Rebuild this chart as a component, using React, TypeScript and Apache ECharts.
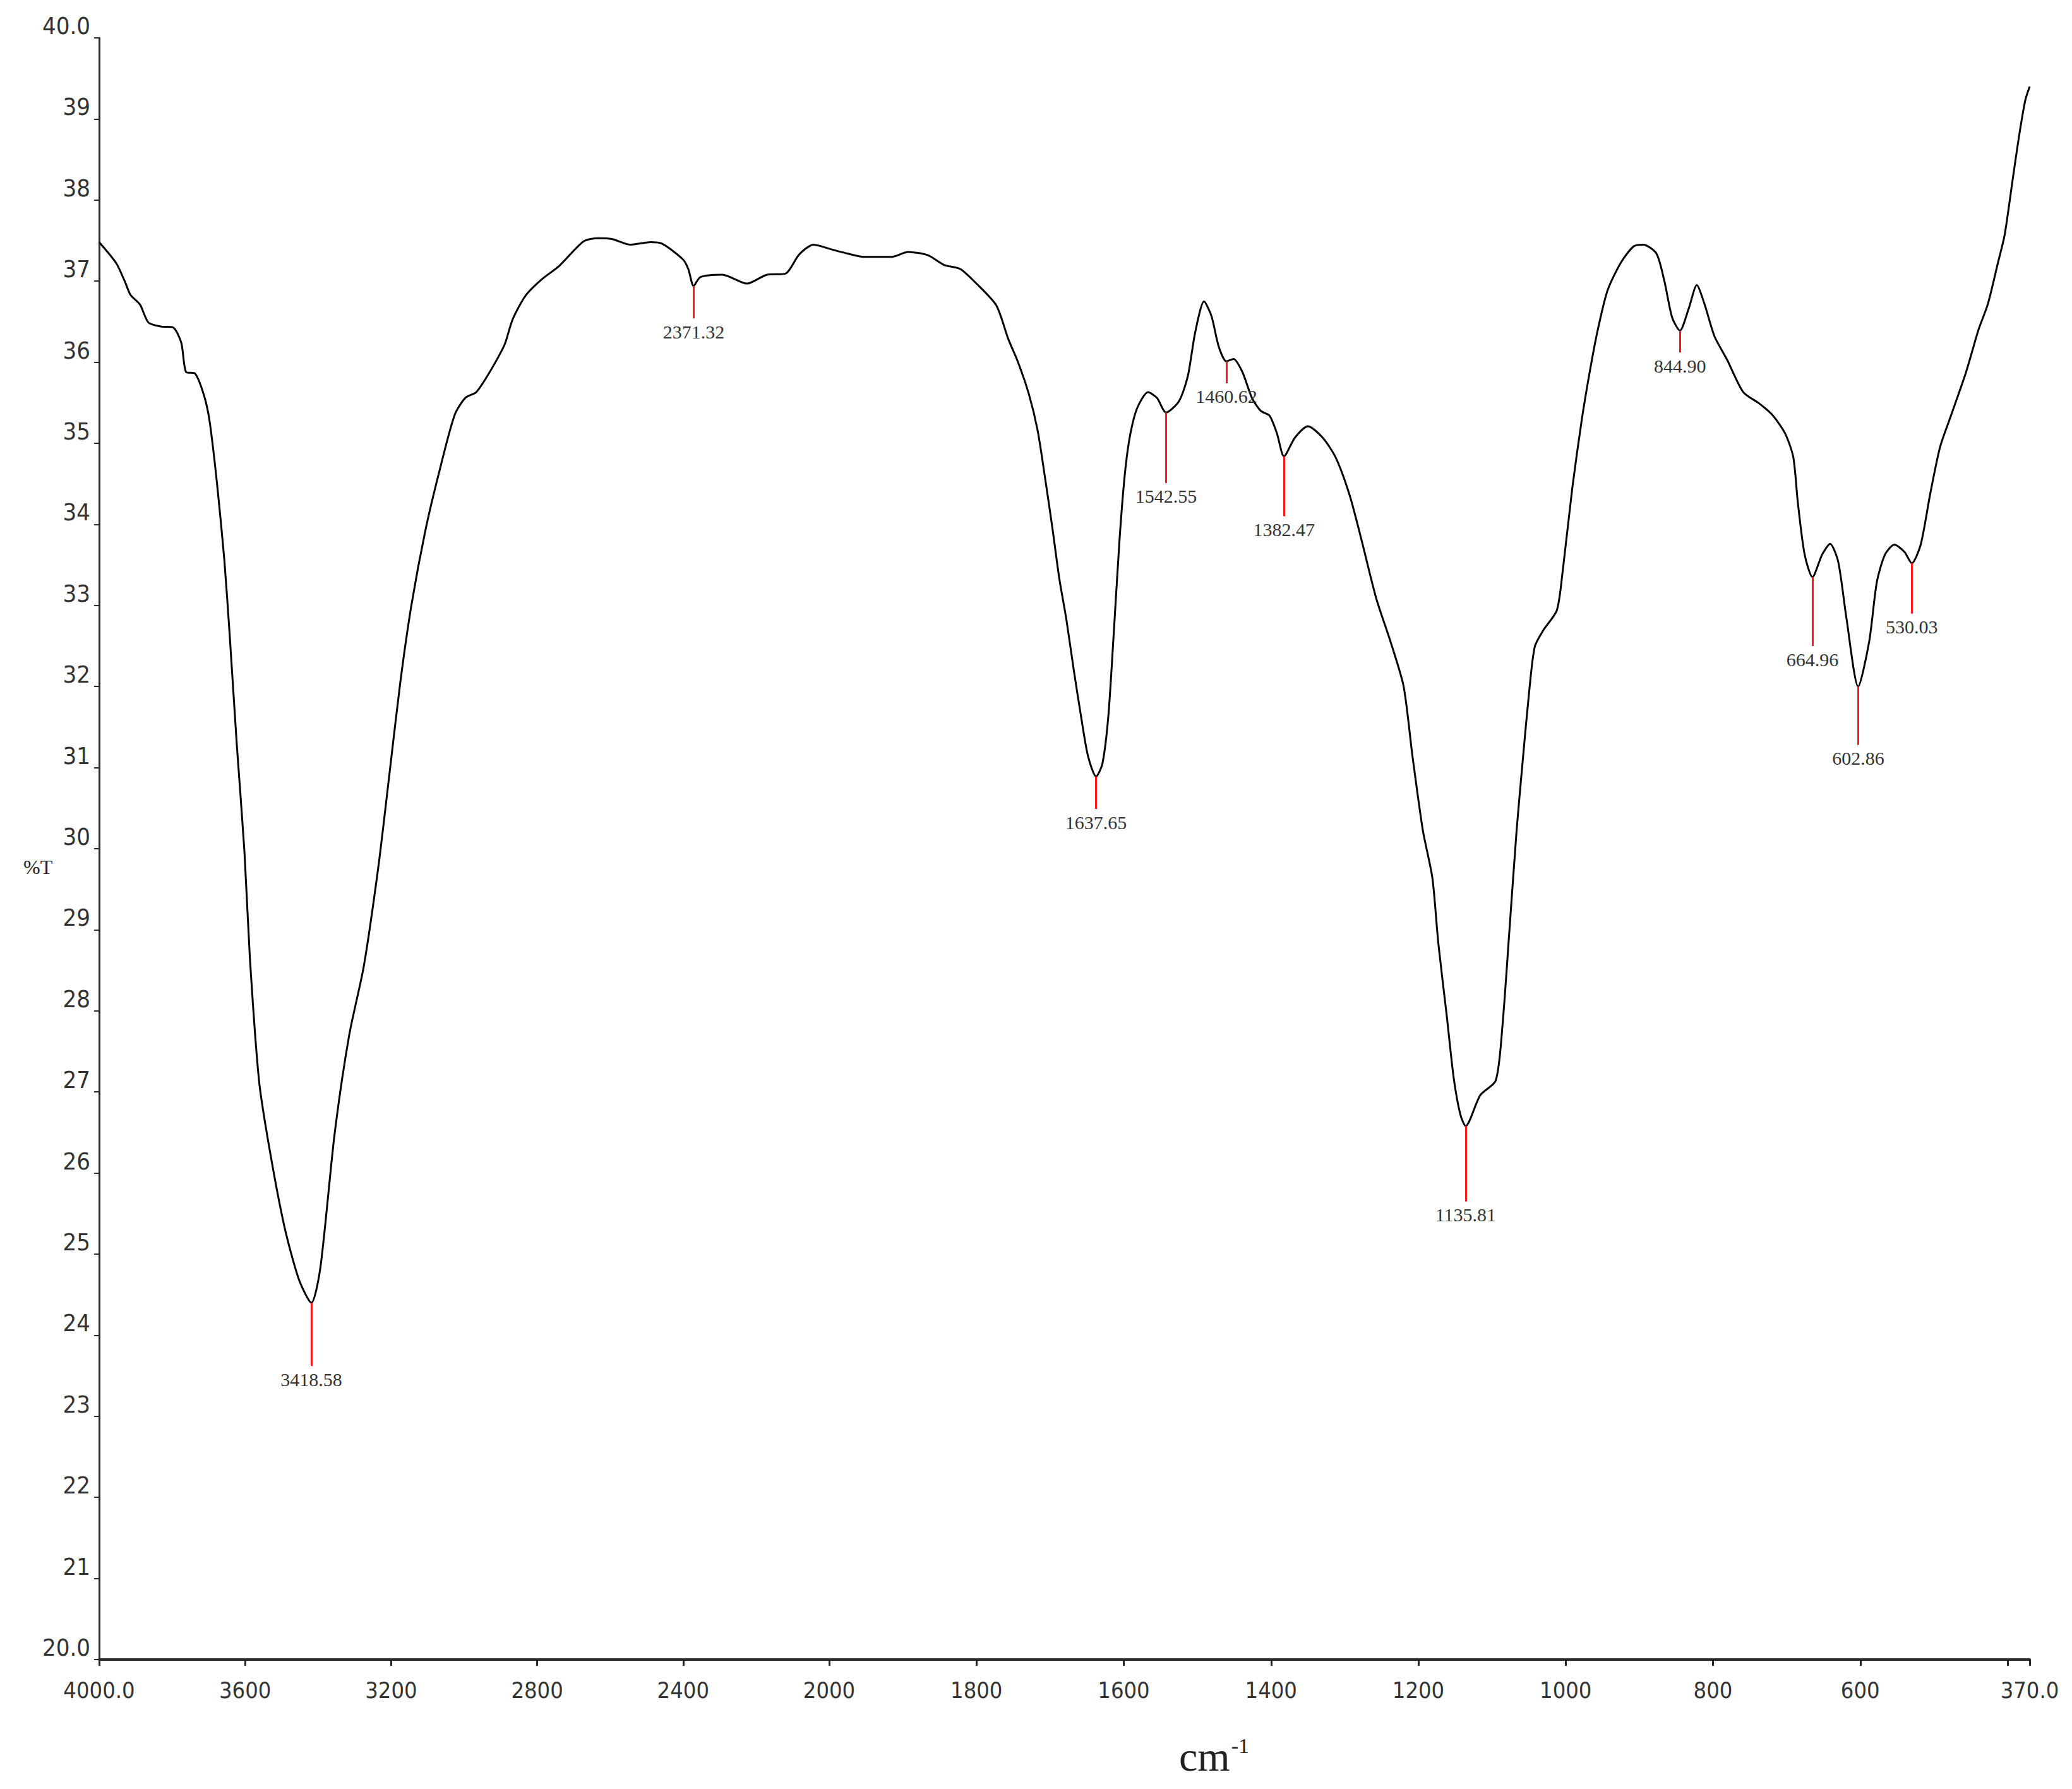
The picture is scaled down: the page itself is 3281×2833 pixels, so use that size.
import { useEffect, useRef } from 'react';
import * as echarts from 'echarts';

// 4000 - 2000 cm-1 (compressed half of the split axis)
const highWn = [
  4000, 3953, 3930, 3914, 3888, 3865, 3830, 3798, 3775, 3762, 3737, 3712, 3697, 3677,
  3657, 3642, 3623, 3602, 3587, 3562, 3533, 3493, 3453, 3418.58, 3394, 3355, 3315, 3275,
  3235, 3205, 3175, 3145, 3106, 3066, 3026, 2997, 2967, 2938, 2907, 2888, 2867, 2832,
  2788, 2739, 2673, 2633, 2595, 2545, 2490, 2457, 2401, 2386, 2371.32, 2353, 2293, 2225,
  2170, 2121, 2082, 2043, 2000,
];
const highT = [
  37.48, 37.22, 37.0, 36.83, 36.71, 36.49, 36.44, 36.43, 36.24, 35.88, 35.86, 35.58, 35.26, 34.5,
  33.56, 32.61, 31.29, 29.97, 28.65, 27.14, 26.29, 25.35, 24.69, 24.4, 24.83, 26.48, 27.7, 28.55,
  29.78, 30.91, 32.05, 32.99, 33.93, 34.69, 35.35, 35.56, 35.63, 35.82, 36.06, 36.23, 36.53, 36.82,
  37.02, 37.19, 37.49, 37.53, 37.52, 37.45, 37.48, 37.46, 37.27, 37.15, 36.94, 37.05, 37.08, 36.97,
  37.08, 37.09, 37.33, 37.45, 37.4,
];

// 2000 - 370 cm-1 (expanded half)
const lowWn = [
  2000, 1975, 1953, 1915, 1893, 1866, 1844, 1822, 1800, 1773, 1757, 1744, 1729, 1717,
  1707, 1697, 1687.5, 1678, 1668, 1658, 1648.5, 1637.65, 1629, 1621, 1613.6, 1606, 1599, 1592,
  1582, 1567, 1555, 1542.55, 1525, 1513, 1503, 1491, 1481, 1471, 1460.62, 1451, 1439, 1426,
  1414, 1402, 1392, 1382.47, 1367.6, 1350, 1330, 1312, 1293, 1277, 1257, 1237, 1220, 1208,
  1194, 1181, 1173, 1161.5, 1152, 1143, 1135.81, 1116, 1095, 1086, 1076.5, 1066.6, 1058.5, 1050,
  1042, 1030, 1012, 1004, 991, 978, 966, 955.7, 943, 925, 907.6, 894.7, 876.8, 866,
  855.4, 844.9, 833, 822, 811.6, 798, 780.8, 758.8, 737, 719.4, 702, 691, 684.7, 675.6,
  664.96, 651.7, 641, 630, 618.6, 602.86, 588, 577.5, 566.4, 553.6, 540, 530.03, 518, 505,
  491.8, 478.9, 457, 439.5, 426.7, 413, 404, 393, 384.6, 376, 370,
];
const lowT = [
  37.4, 37.34, 37.3, 37.3, 37.36, 37.32, 37.2, 37.15, 36.97, 36.7, 36.29, 36.01, 35.61, 35.16,
  34.58, 33.96, 33.33, 32.83, 32.21, 31.63, 31.14, 30.89, 31.05, 31.63, 32.66, 33.78, 34.58, 35.07,
  35.43, 35.63, 35.56, 35.38, 35.52, 35.83, 36.37, 36.75, 36.57, 36.19, 36.01, 36.04, 35.88, 35.56,
  35.4, 35.34, 35.12, 34.84, 35.07, 35.21, 35.07, 34.82, 34.35, 33.8, 33.08, 32.53, 32.0, 31.14,
  30.23, 29.64, 28.84, 27.94, 27.17, 26.72, 26.58, 26.96, 27.14, 27.8, 28.98, 30.23, 31.07, 31.9,
  32.49, 32.7, 32.94, 33.43, 34.45, 35.3, 35.95, 36.43, 36.89, 37.23, 37.43, 37.45, 37.34, 37.0,
  36.55, 36.39, 36.66, 36.95, 36.72, 36.32, 36.03, 35.63, 35.49, 35.35, 35.12, 34.83, 34.26, 33.63,
  33.35, 33.63, 33.76, 33.54, 32.83, 32.0, 32.55, 33.29, 33.63, 33.75, 33.66, 33.52, 33.75, 34.38,
  34.95, 35.29, 35.86, 36.4, 36.72, 37.23, 37.57, 38.26, 38.78, 39.23, 39.4,
];

// marked peaks: position, %T at the minimum, and how far the red stem drops (in %T)
const peakWn = [3418.58, 2371.32, 1637.65, 1542.55, 1460.62, 1382.47, 1135.81, 844.9, 664.96, 602.86, 530.03];
const peakT = [24.4, 36.94, 30.89, 35.38, 36.01, 34.84, 26.58, 36.39, 33.35, 32.0, 33.52];
const peakDrop = [0.78, 0.4, 0.4, 0.87, 0.27, 0.74, 0.93, 0.27, 0.85, 0.72, 0.62];

const highTicks = [4000, 3600, 3200, 2800, 2400, 2000];
const lowTicks = [1800, 1600, 1400, 1200, 1000, 800, 600, 400, 370];
const lowLabels = [1800, 1600, 1400, 1200, 1000, 800, 600, 370];

const AXIS_COLOR = '#2a2a2a';
const TEXT_COLOR = '#333333';
const NARROW = "'Liberation Sans Narrow', 'DejaVu Sans Condensed', 'Liberation Sans', sans-serif";
const SERIF = "'Liberation Serif', 'DejaVu Serif', serif";

function peakLines(hi: number, lo: number) {
  return peakWn
    .map((wn, i) => ({ wn, i }))
    .filter((p) => p.wn <= hi && p.wn >= lo)
    .map(({ wn, i }) => [
      { name: wn.toFixed(2), coord: [wn, peakT[i]] },
      { coord: [wn, peakT[i] - peakDrop[i]] },
    ]);
}

function xAxisFor(gridIndex: number, min: number, max: number, ticks: number[], labels: number[]) {
  return {
    type: 'value',
    gridIndex,
    min,
    max,
    inverse: true,
    splitLine: { show: false },
    axisLine: { show: true, onZero: false, lineStyle: { color: AXIS_COLOR, width: 4 } },
    axisTick: { show: true, length: 10, customValues: ticks, lineStyle: { color: AXIS_COLOR, width: 3 } },
    axisLabel: {
      customValues: labels,
      margin: 30,
      color: TEXT_COLOR,
      fontFamily: NARROW,
      fontSize: 36,
      formatter: (v: number) => (v === 4000 || v === 370 ? v.toFixed(1) : String(v)),
    },
  };
}

function makeSeries(xAxisIndex: number, wn: number[], t: number[], hi: number, lo: number) {
  return {
    type: 'line',
    xAxisIndex,
    yAxisIndex: xAxisIndex,
    data: wn.map((w, i) => [w, t[i]]),
    showSymbol: false,
    smooth: 0.25,
    lineStyle: { color: '#000000', width: 3 },
    silent: true,
    markLine: {
      silent: true,
      symbol: ['none', 'none'],
      lineStyle: { color: '#ff1a1a', width: 3, type: 'solid' },
      emphasis: { disabled: true },
      label: {
        show: true,
        position: 'end',
        distance: 6,
        color: TEXT_COLOR,
        fontFamily: SERIF,
        fontSize: 30,
        formatter: (p: { name: string }) => p.name,
      },
      data: peakLines(hi, lo),
    },
  };
}

export default function App() {
  const chartRef = useRef<HTMLDivElement>(null);

  useEffect(() => {
    if (!chartRef.current) return;
    document.body.style.margin = '0';
    const chart = echarts.init(chartRef.current, null, { renderer: 'svg' });

    const yBase = {
      type: 'value',
      min: 20,
      max: 40,
      interval: 1,
      splitLine: { show: false },
    };

    chart.setOption({
      animation: false,
      backgroundColor: '#ffffff',
      title: [
        {
          text: '%T',
          left: 32,
          top: 1352,
          textStyle: { fontFamily: SERIF, fontSize: 32, fontWeight: 'normal', color: '#222' },
        },
        {
          text: '{a|cm}{b|-1}',
          left: 1862,
          top: 2742,
          textStyle: {
            fontWeight: 'normal',
            rich: {
              a: { fontFamily: SERIF, fontSize: 66, fontWeight: 'normal', color: '#222' },
              b: {
                fontFamily: SERIF,
                fontSize: 34,
                fontWeight: 'normal',
                color: '#222',
                padding: [0, 0, 34, 2],
              },
            },
          },
        },
      ],
      grid: [
        { left: 157, top: 60, width: 1156, height: 2568, outerBoundsMode: 'none' },
        { left: 1313, top: 60, width: 1901, height: 2568, outerBoundsMode: 'none' },
      ],
      xAxis: [
        xAxisFor(0, 2000, 4000, highTicks, highTicks),
        xAxisFor(1, 370, 2000, lowTicks, lowLabels),
      ],
      yAxis: [
        {
          ...yBase,
          gridIndex: 0,
          axisLine: { show: true, lineStyle: { color: AXIS_COLOR, width: 3 } },
          axisTick: { show: true, length: 8, lineStyle: { color: AXIS_COLOR, width: 2 } },
          axisLabel: {
            margin: 14,
            verticalAlign: 'bottom',
            color: TEXT_COLOR,
            fontFamily: NARROW,
            fontSize: 38,
            formatter: (v: number) => (v === 20 || v === 40 ? v.toFixed(1) : String(v)),
          },
        },
        { ...yBase, gridIndex: 1, show: false },
      ],
      series: [
        makeSeries(0, highWn, highT, 4000, 2000),
        makeSeries(1, lowWn, lowT, 1999, 370),
      ],
    });

    return () => {
      chart.dispose();
    };
  }, []);

  return <div ref={chartRef} style={{ width: 3281, height: 2833 }} />;
}
